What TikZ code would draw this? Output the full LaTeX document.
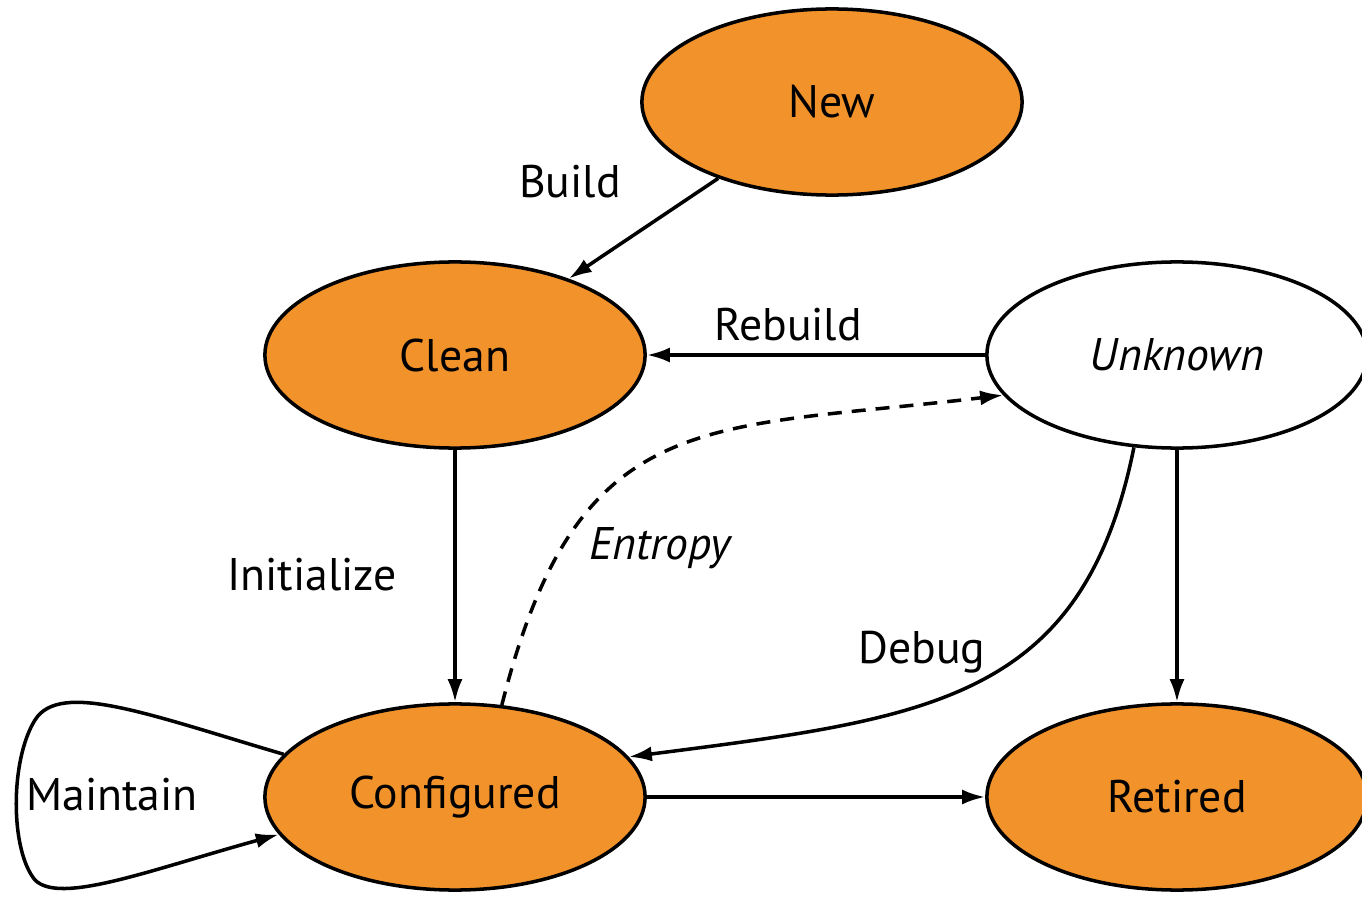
\documentclass[tikz,border=0pt]{standalone}
\usepackage{fontspec}
\setmainfont{PT Sans}
\usetikzlibrary{shapes.geometric,arrows.meta}
\definecolor{stateorange}{HTML}{F2922A}
\tikzset{
  state/.style={ellipse, draw, line width=1pt, fill=stateorange,
    minimum width=3.8cm, minimum height=1.86cm, inner sep=0pt,
    font=\fontsize{13}{16}\selectfont},
  limbo/.style={state, fill=white, font=\fontsize{13}{16}\selectfont\itshape},
  trans/.style={draw, line width=1pt, -{Latex[length=2.3mm,width=1.5mm]}},
  lbl/.style={font=\fontsize{13}{16}\selectfont, inner sep=1pt},
}
\begin{document}
\begin{tikzpicture}[x=0.01cm,y=-0.01cm]
  \useasboundingbox (0,0) rectangle (1362,897);

  % States
  \node[state] (new) at (832,102) {New};
  \node[state] (clean) at (455,355) {Clean};
  \node[limbo] (unknown) at (1177,355) {Unknown};
  \node[state] (configured) at (455,797) {Configured};
  \node[state] (retired) at (1177,797) {Retired};

  % Transitions
  \draw[trans] (new) -- (clean);
  \draw[trans] (unknown) -- (clean);
  \draw[trans] (clean) -- (configured);
  \draw[trans] (configured) -- (retired);
  \draw[trans] (unknown) -- (retired);
  \draw[trans, dashed, dash pattern=on 1.4mm off 1mm]
    (configured.63) .. controls (578,403) and (705,431) .. (unknown.193);
  \draw[trans] (unknown.245) .. controls (1083,700) and (932,718) .. (configured.13);
  \draw[trans] (configured.166) .. controls (150,715) and (60,680) .. (35,720)
    .. controls (10,760) and (10,850) .. (35,880)
    .. controls (60,905) and (150,870) .. (configured.192);

  % Labels
  \node[lbl] (lblbuild) at (570,182) {Build};
  \node[lbl] (lblrebuild) at (788,325) {Rebuild};
  \node[lbl] (lblinit) at (312,575) {Initialize};
  \node[lbl, font=\fontsize{13}{16}\selectfont\itshape] (lblentropy) at (660,548) {Entropy};
  \node[lbl] (lbldebug) at (922,652) {Debug};
  \node[lbl] (lblmaintain) at (112,795) {Maintain};
\end{tikzpicture}
\end{document}
